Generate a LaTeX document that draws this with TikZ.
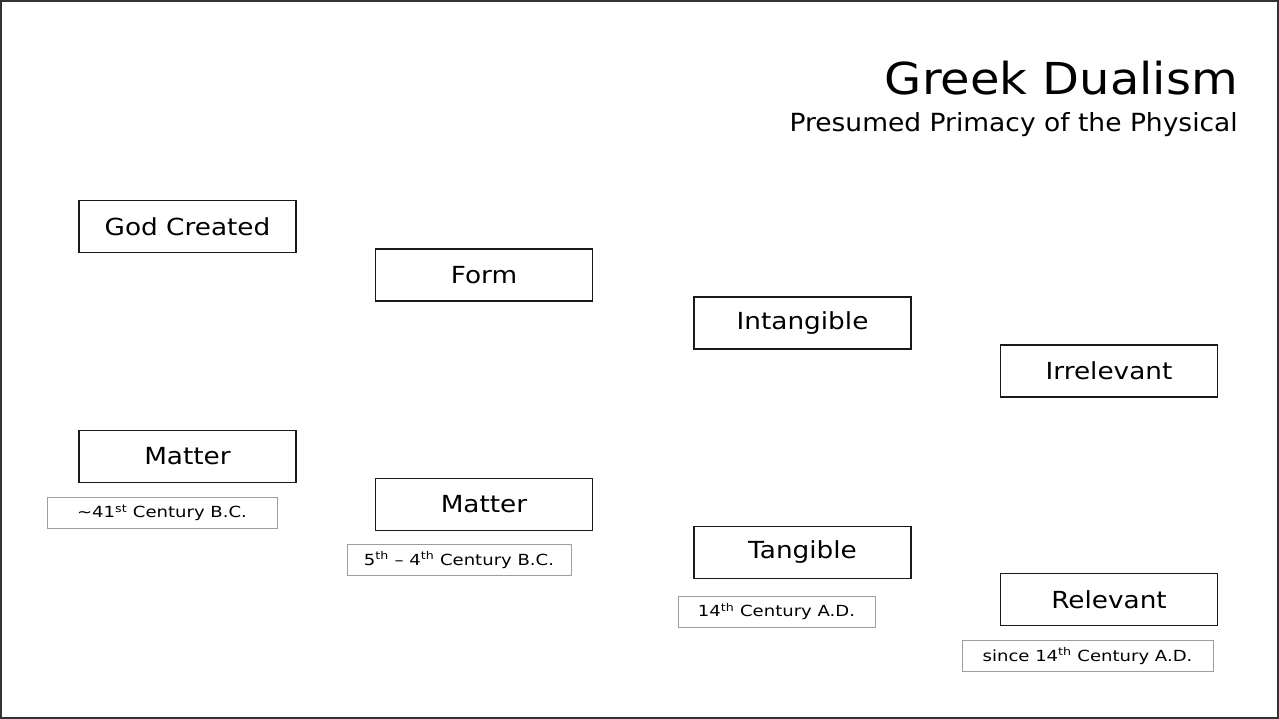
\documentclass[tikz,border=0pt]{standalone}
\usepackage{fontspec}
\setmainfont{DejaVu Sans}
\newfontfamily\titlefnt[FakeStretch=1.09]{DejaVu Sans}
\newfontfamily\subfnt[FakeStretch=1.06]{DejaVu Sans}
\newfontfamily\boxfnt[FakeStretch=1.12]{DejaVu Sans}
\newfontfamily\datefnt[FakeStretch=1.18]{DejaVu Sans}
\begin{document}
\begin{tikzpicture}[x=1pt,y=-1pt,
  bigbox/.style={draw=black!90, line width=1.6pt, minimum width=217pt, minimum height=52pt, inner sep=0pt, font=\boxfnt\fontsize{23.5}{27}\selectfont},
  datebox/.style={draw=black!38, line width=0.9pt, inner sep=0pt, minimum height=31pt, font=\datefnt\fontsize{15.3}{18}\selectfont}]
\useasboundingbox (0,0) rectangle (1279,719);
\draw[line width=1.6pt, draw=black!80] (1,1) rectangle (1278,718);
\node[anchor=base east, inner sep=0pt, font=\titlefnt\fontsize{44}{50}\selectfont] (title) at (1238,94.5) {Greek Dualism};
\node[anchor=base east, inner sep=0pt, font=\subfnt\fontsize{25}{30}\selectfont] (sub) at (1238,131.5) {Presumed Primacy of the Physical};
\node[bigbox] (god) at (187.5,226.5) {God Created};
\node[bigbox] (form) at (484,275) {Form};
\node[bigbox] (intang) at (802.5,323) {Intangible};
\node[bigbox] (irrel) at (1109,371) {Irrelevant};
\node[bigbox] (matter1) at (187.5,456.5) {Matter};
\node[bigbox] (matter2) at (484,504.5) {Matter};
\node[bigbox] (tang) at (802.5,552.5) {Tangible};
\node[bigbox] (rel) at (1109,599.5) {Relevant};
\node[datebox, minimum width=230pt] (d1) at (162,513) {\textasciitilde41\textsuperscript{st} Century B.C.};
\node[datebox, minimum width=224pt] (d2) at (459,560) {5\textsuperscript{th} – 4\textsuperscript{th} Century B.C.};
\node[datebox, minimum width=197pt] (d3) at (776.5,611.5) {14\textsuperscript{th} Century A.D.};
\node[datebox, minimum width=251pt] (d4) at (1087.5,656) {since 14\textsuperscript{th} Century A.D.};
\end{tikzpicture}
\end{document}
